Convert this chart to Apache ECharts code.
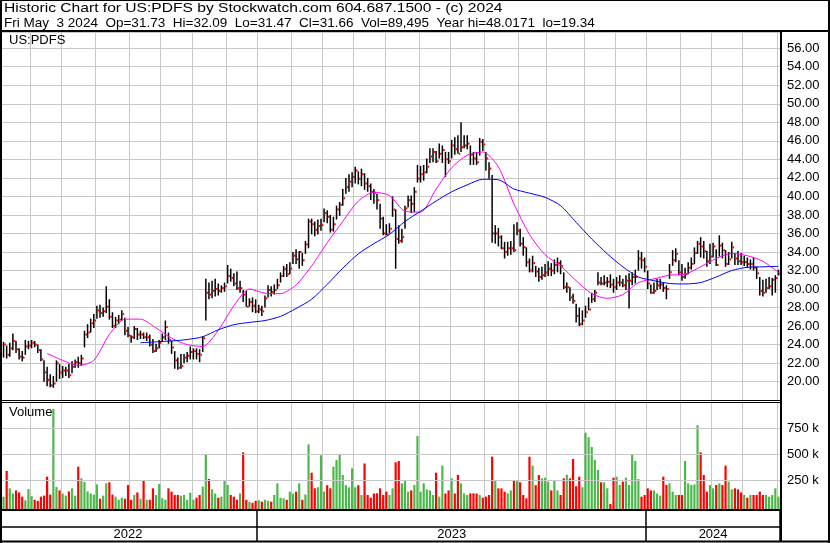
<!DOCTYPE html>
<html><head><meta charset="utf-8">
<script src="https://cdn.jsdelivr.net/npm/echarts@6/dist/echarts.min.js"></script>
<style>html,body{margin:0;padding:0;background:#fff}#c{width:830px;height:543px}</style>
</head><body><div id="c"></div>
<script>
// ---- data (each bar = about two trading days, May 2022 .. May 3 2024) ----
const high = [
24.3,23.9,24.2,25.2,24.4,23.6,23.3,24.5,24.4,24.5,
24.4,24.0,23.5,22.3,21.6,20.8,20.6,22.3,21.9,21.7,
21.6,21.9,22.2,22.4,22.7,22.9,25.5,26.2,26.8,27.3,
28.2,28.3,28.0,30.3,28.9,27.5,27.0,27.2,27.7,26.9,
25.9,25.0,26.0,25.8,25.5,25.3,25.3,25.1,24.6,24.1,
24.5,25.2,26.6,25.3,24.4,23.3,22.6,23.0,23.0,23.2,
23.8,23.6,23.6,23.5,24.9,31.1,30.7,30.9,31.1,30.6,
30.4,30.7,32.6,32.2,31.7,31.9,30.9,29.9,29.8,29.0,
29.1,28.9,28.3,28.2,29.3,30.4,30.3,30.5,31.1,31.8,
32.5,32.7,32.9,34.0,34.3,34.1,33.9,35.2,37.6,37.6,
37.3,37.5,37.6,38.7,38.5,38.0,37.8,39.0,39.4,40.8,
42.0,42.4,42.6,43.2,42.7,43.0,42.5,42.0,41.4,40.8,
40.3,39.2,37.8,37.0,37.1,40.0,38.6,36.9,36.5,39.0,
40.1,40.1,41.0,43.4,43.3,43.4,44.1,45.2,45.2,44.9,
45.7,45.5,44.8,44.8,46.1,46.4,46.6,48.02,46.6,46.6,
45.5,44.8,44.8,46.3,46.2,44.8,43.7,42.3,36.9,36.6,
35.8,35.1,35.1,35.2,37.0,37.2,36.5,35.6,34.5,33.3,
33.6,32.5,32.3,32.4,32.7,33.0,32.8,33.2,33.4,33.1,
31.8,30.7,30.2,29.5,28.4,28.0,27.7,28.2,29.1,29.6,
29.9,31.8,31.3,31.5,31.3,31.6,31.1,31.3,31.5,31.1,
31.5,31.7,31.8,32.1,34.2,34.0,33.4,32.0,30.5,30.7,
31.1,31.1,30.7,30.4,32.7,34.2,34.4,33.1,32.7,32.3,
32.9,33.4,34.5,35.2,35.6,35.2,34.1,34.9,35.0,34.3,
35.8,35.0,34.2,34.0,35.1,33.9,34.1,33.9,33.6,33.4,
33.2,33.4,32.4,31.3,31.0,31.1,31.3,31.2,31.5,32.09];
const low = [
22.6,22.5,22.7,23.4,23.1,22.4,22.2,22.9,23.5,23.6,
23.7,23.1,22.2,20.0,19.5,19.4,19.34,20.0,20.3,20.4,
20.6,20.4,20.9,21.5,21.5,21.7,23.7,24.7,25.3,25.8,
26.8,26.9,27.0,27.4,26.7,25.8,25.8,26.2,26.6,25.0,
24.8,24.2,24.6,24.5,24.6,24.6,24.4,23.8,23.1,23.2,
23.6,24.3,24.5,24.1,23.0,21.4,21.3,21.4,22.0,22.1,
22.4,22.4,22.4,22.1,23.2,26.6,28.9,29.0,29.2,29.3,
29.6,29.7,30.6,30.8,30.3,29.9,29.6,28.6,28.1,28.1,
27.5,27.4,27.4,27.1,28.0,29.1,29.2,29.4,30.0,30.7,
31.3,31.3,31.6,32.7,32.7,32.2,32.5,33.8,34.4,35.9,
35.7,35.9,36.3,37.2,37.1,36.1,36.2,37.5,37.9,39.0,
40.3,40.5,41.0,41.4,41.3,41.1,40.7,40.5,39.6,39.2,
38.6,36.5,35.8,35.8,36.0,37.8,32.2,34.9,35.0,36.5,
38.8,38.2,38.3,41.5,41.5,41.7,42.5,43.6,43.7,43.6,
44.1,43.6,42.1,43.5,44.1,44.5,44.6,44.8,45.2,45.1,
43.4,43.4,43.4,44.4,44.9,42.8,41.9,35.0,34.9,34.6,
34.3,33.3,33.6,33.7,34.0,35.8,34.6,33.6,32.4,31.8,
31.8,31.3,30.8,31.0,31.3,31.4,31.4,31.6,31.8,31.6,
30.0,29.6,28.7,28.4,26.4,26.0,26.1,26.9,27.7,28.5,
28.6,30.4,30.4,30.4,30.2,30.1,29.6,29.9,30.3,30.2,
29.9,27.9,30.4,30.6,32.0,32.2,31.8,30.0,29.5,29.5,
29.9,30.0,29.7,28.9,31.1,32.5,32.9,31.5,30.9,31.1,
31.6,32.1,32.7,33.8,33.4,33.3,32.4,32.7,33.4,32.5,
33.5,33.3,32.4,32.6,33.3,32.6,32.6,32.6,32.5,32.3,
32.1,32.0,31.1,29.3,29.2,29.6,30.0,29.3,29.6,31.47];
const close = [
24.0,22.9,23.6,24.4,23.5,22.7,22.6,23.8,23.9,24.2,
24.0,23.4,22.4,21.0,20.2,19.6,19.8,22.0,21.0,21.2,
21.2,20.7,21.6,22.1,22.0,22.5,25.1,25.3,26.3,26.6,
27.7,27.4,27.6,28.1,27.0,26.0,26.6,26.7,27.3,25.5,
25.0,24.8,25.7,25.1,25.1,24.8,24.8,24.0,23.3,23.6,
24.2,24.8,25.9,24.5,23.7,22.3,21.5,21.7,22.6,22.8,
23.2,23.3,23.0,22.9,24.7,29.6,29.4,29.8,30.0,29.8,
30.1,30.3,31.4,31.2,30.6,30.1,30.1,29.4,28.1,28.6,
28.2,27.6,27.8,27.6,29.0,29.9,29.7,29.9,30.4,31.4,
32.2,31.6,32.2,33.6,33.2,34.0,33.1,34.8,37.3,37.0,
36.4,36.8,36.9,38.2,37.8,36.4,37.0,38.6,39.1,39.8,
41.0,41.6,42.1,42.8,41.9,42.4,41.4,41.1,40.5,40.4,
39.6,37.6,36.0,35.9,36.5,38.6,35.4,35.2,35.6,38.7,
39.6,39.2,40.5,41.9,42.4,42.6,43.2,44.3,44.8,43.8,
44.6,45.0,44.0,43.8,45.5,45.1,44.6,45.3,45.5,45.7,
44.5,44.1,43.7,45.9,45.6,44.1,43.0,36.0,36.0,35.6,
34.4,34.0,34.4,34.4,34.2,36.3,34.9,34.5,32.9,32.0,
32.8,31.9,31.3,31.5,31.8,32.2,32.0,32.6,32.8,32.5,
30.2,30.2,29.1,28.7,27.1,26.2,26.6,27.5,27.8,28.9,
29.6,30.7,30.6,30.7,30.8,30.5,30.2,30.7,30.7,30.4,
30.9,30.9,31.3,31.3,33.3,33.1,32.4,30.6,29.6,29.8,
30.4,30.5,30.1,30.0,31.8,33.1,33.8,31.8,31.3,31.6,
32.3,32.7,33.9,34.9,34.6,34.1,33.0,33.5,34.6,32.6,
34.7,34.2,32.7,33.2,34.5,33.3,33.0,32.9,32.9,32.7,
32.7,32.3,31.7,29.8,29.6,30.1,30.3,31.0,31.2,31.66];
// volume in thousands of shares
const volumeK = [
90,337,170,120,150,130,90,55,163,95,
60,50,90,100,282,110,933,183,150,120,
100,140,170,100,378,266,230,140,120,110,
208,70,100,218,228,110,90,60,80,70,
202,60,106,130,70,250,60,60,170,106,
211,75,60,170,138,106,106,100,106,60,
128,60,80,106,186,497,260,160,120,80,
90,247,202,106,90,60,120,516,60,40,
30,50,55,42,60,50,42,106,218,80,
74,60,138,120,138,218,60,110,593,320,
170,180,488,138,200,170,378,442,497,298,
200,180,362,180,200,106,409,106,80,120,
122,170,106,138,106,170,420,433,218,240,
138,150,202,673,138,218,160,150,106,320,
90,388,120,150,266,120,298,218,120,106,
122,122,120,106,80,90,106,474,240,170,
170,138,122,150,250,240,228,106,74,474,
388,200,298,266,272,234,150,240,150,106,
266,300,266,452,190,282,180,705,661,567,
444,346,228,228,170,20,272,282,202,234,
272,202,497,433,260,90,106,170,150,150,
120,100,282,202,218,138,106,106,106,433,
218,202,208,776,516,298,138,202,170,202,
218,202,388,234,160,170,160,130,106,80,
106,106,106,138,106,106,90,106,170,90];
// moving averages, one value every maStep bars
const maStep = 5;
const maFastStart = 14;
const maFast = [23.05,22.3,21.75,22.3,25.1,26.75,26.75,25.8,24.7,24.0,
23.8,25.55,28.2,30.0,29.55,29.5,30.45,32.5,35.0,37.3,
39.5,40.45,40.1,38.4,38.3,40.8,43.1,44.45,44.8,43.2,
39.2,35.9,33.7,32.5,30.9,29.5,29.0,29.4,30.7,31.1,
31.5,31.6,32.4,33.3,33.85,33.6,33.0,31.8];
const maSlowStart = 44;
const maSlow = [24.2,24.3,24.4,24.55,24.85,25.6,26.15,26.4,26.6,27.05,
27.9,28.9,30.5,32.25,33.8,34.9,35.9,37.3,38.4,39.5,
40.5,41.25,41.85,41.8,40.8,40.35,39.9,39.0,37.2,35.4,
33.8,32.4,31.3,30.9,30.6,30.55,30.7,31.3,32.0,32.35,
32.4,32.45];
// calendar structure (bar index where each month / year begins)
const monthStarts = [9,19,30,41,51,61,72,82,93,103,113,123,134,144,155,166,175,187,197,207,218,228,238,249];
const yearNames = ['2022','2023','2024'];
const yearStarts = [0,82,207];
const volTicksK = [250,500,750];
const priceMin = 18, priceMax = 57.75, priceStep = 2;
const volMinK = -28.8, volMaxK = 1000;
const titleLine1 = 'Historic Chart for US:PDFS by Stockwatch.com 604.687.1500 - (c) 2024';
const titleLine2 = 'Fri May  3 2024  Op=31.73  Hi=32.09  Lo=31.47  Cl=31.66  Vol=89,495  Year hi=48.0171  lo=19.34';
const symbolLabel = 'US:PDFS';
const volumeLabel = 'Volume';

// ---- build ----
const N = close.length;
const FONT = '"Liberation Sans", Arial, sans-serif';
const barYear = [];
for (let i = 0; i < N; i++) {
  let y = 0;
  for (let j = 0; j < yearStarts.length; j++) if (i >= yearStarts[j]) y = j;
  barYear.push(yearNames[y]);
}
const yearCenters = yearStarts.map((s, j) => Math.floor((s + (j + 1 < yearStarts.length ? yearStarts[j + 1] : N) - 1) / 2));
const monthSet = new Set(monthStarts);
const yearBoundSet = new Set(yearStarts.filter(s => s > 0));
const ohlc = close.map((c, i) => [i, high[i], low[i], c]);
const vol = volumeK.map((v, i) => [i, v, i === 0 || close[i] >= close[i - 1] ? 1 : 0]);
const fastData = maFast.map((v, k) => [maFastStart + k * maStep, v]);
const slowData = maSlow.map((v, k) => [maSlowStart + k * maStep, v]);

const gridColor = '#c8c8c8';
const L = 2, W = 778;
const catAxis = (gi) => ({
  type: 'category', gridIndex: gi, data: barYear, boundaryGap: true,
  axisLine: {show: false}, axisTick: {show: false}, axisLabel: {show: false},
  splitLine: {show: true, interval: (idx) => monthSet.has(idx), lineStyle: {color: gridColor, width: 1}}
});

const chart = echarts.init(document.getElementById('c'), null, {renderer: 'canvas'});
chart.setOption({
  animation: false,
  backgroundColor: '#fff',
  textStyle: {fontFamily: FONT},
  grid: [
    {left: L, width: W, top: 32, height: 368.2},
    {left: L, width: W, top: 402, height: 107},
    {left: L, width: W, top: 511, height: 16}
  ],
  xAxis: [
    catAxis(0), catAxis(1),
    {
      type: 'category', gridIndex: 2, data: barYear, boundaryGap: true,
      axisLine: {show: true, lineStyle: {color: '#000', width: 1.5}},
      axisTick: {show: true, interval: (idx) => yearBoundSet.has(idx), length: 14, lineStyle: {color: '#000', width: 1.5}},
      splitLine: {show: true, interval: (idx) => yearBoundSet.has(idx), lineStyle: {color: '#000', width: 1.5}},
      axisLabel: {interval: (idx) => yearCenters.includes(idx), margin: 1, fontSize: 13, color: '#000', fontFamily: FONT}
    }
  ],
  yAxis: [
    {
      type: 'value', gridIndex: 0, position: 'right', min: priceMin, max: priceMax, interval: priceStep,
      axisLine: {show: false}, axisTick: {show: false},
      axisLabel: {margin: 7, fontSize: 13, color: '#000', fontFamily: FONT,
        formatter: (v) => (v >= 20 && v <= 56 && Math.abs(v - Math.round(v)) < 1e-6) ? v.toFixed(2) : ''},
      splitLine: {show: true, lineStyle: {color: gridColor, width: 1}}
    },
    {type: 'value', gridIndex: 1, position: 'right', min: volMinK, max: volMaxK,
      axisLine: {show: false}, axisTick: {show: false}, axisLabel: {show: false}, splitLine: {show: false}},
    {type: 'value', gridIndex: 2, show: false}
  ],
  series: [
    {
      type: 'custom', xAxisIndex: 0, yAxisIndex: 0, data: ohlc, encode: {x: 0, y: [1, 2, 3]}, z: 3,
      renderItem: (params, api) => {
        const i = api.value(0);
        const h = api.coord([i, api.value(1)]);
        const l = api.coord([i, api.value(2)]);
        const c = api.coord([i, api.value(3)]);
        return {type: 'group', children: [
          {type: 'line', shape: {x1: h[0], y1: h[1], x2: l[0], y2: l[1]}, style: {stroke: '#000', lineWidth: 1.5}},
          {type: 'rect', shape: {x: c[0] + 0.75, y: c[1] - 1, width: 1.6, height: 2}, style: {fill: '#ff0000'}}
        ]};
      }
    },
    {type: 'line', xAxisIndex: 0, yAxisIndex: 0, data: fastData, showSymbol: false, symbol: 'none', smooth: 0.25, z: 4,
      lineStyle: {color: '#ff00ff', width: 1}},
    {type: 'line', xAxisIndex: 0, yAxisIndex: 0, data: slowData, showSymbol: false, symbol: 'none', smooth: 0.25, z: 4,
      lineStyle: {color: '#0000ff', width: 1}},
    {
      type: 'line', xAxisIndex: 1, yAxisIndex: 1, data: vol.map(d => [d[0], d[1]]), symbol: 'none', silent: true, z: 1,
      lineStyle: {opacity: 0},
      markLine: {symbol: 'none', silent: true, animation: false,
        lineStyle: {color: gridColor, type: 'solid', width: 1},
        label: {position: 'end', distance: 7, formatter: (p) => p.value + ' k', fontSize: 13, color: '#000', fontFamily: FONT},
        data: volTicksK.map(v => ({yAxis: v}))}
    },
    {
      type: 'custom', xAxisIndex: 1, yAxisIndex: 1, data: vol, encode: {x: 0, y: 1}, z: 3,
      renderItem: (params, api) => {
        const i = api.value(0);
        const t = api.coord([i, api.value(1)]);
        const b = api.coord([i, volMinK]);
        const w = 2.2;
        return {type: 'rect', shape: {x: t[0] - w / 2, y: t[1], width: w, height: b[1] - t[1]},
          style: {fill: api.value(2) ? '#4cb84c' : '#ff0000'}};
      }
    }
  ],
  graphic: [
    {type: 'text', x: 4, y: 2, scaleX: 1.2, style: {text: titleLine1, font: '13px ' + FONT, fill: '#000', textVerticalAlign: 'top'}},
    {type: 'text', x: 4, y: 17, scaleX: 1.04, style: {text: titleLine2, font: '13px ' + FONT, fill: '#000', textVerticalAlign: 'top'}},
    {type: 'text', left: 9, top: 34, z: 10, style: {text: symbolLabel, font: '13px ' + FONT, fill: '#000'}},
    {type: 'text', left: 9, top: 406, z: 10, style: {text: volumeLabel, font: '13px ' + FONT, fill: '#000'}},
    // frame
    {type: 'line', z: 20, shape: {x1: 0, y1: 0.5, x2: 830, y2: 0.5}, style: {stroke: '#000', lineWidth: 1}},
    {type: 'line', z: 20, shape: {x1: 0, y1: 31, x2: 830, y2: 31}, style: {stroke: '#000', lineWidth: 2}},
    {type: 'line', z: 20, shape: {x1: 1, y1: 0, x2: 1, y2: 543}, style: {stroke: '#000', lineWidth: 2}},
    {type: 'line', z: 20, shape: {x1: 829, y1: 0, x2: 829, y2: 543}, style: {stroke: '#000', lineWidth: 2}},
    {type: 'line', z: 20, shape: {x1: 781, y1: 31, x2: 781, y2: 542}, style: {stroke: '#000', lineWidth: 2}},
    {type: 'line', z: 20, shape: {x1: 0, y1: 400.5, x2: 781, y2: 400.5}, style: {stroke: '#000', lineWidth: 1}},
    {type: 'line', z: 20, shape: {x1: 0, y1: 402.5, x2: 781, y2: 402.5}, style: {stroke: '#000', lineWidth: 1}},
    {type: 'line', z: 20, shape: {x1: 0, y1: 510, x2: 781, y2: 510}, style: {stroke: '#000', lineWidth: 2}},
    {type: 'line', z: 20, shape: {x1: 0, y1: 541.5, x2: 830, y2: 541.5}, style: {stroke: '#000', lineWidth: 2}}
  ]
});
</script>
</body></html>
